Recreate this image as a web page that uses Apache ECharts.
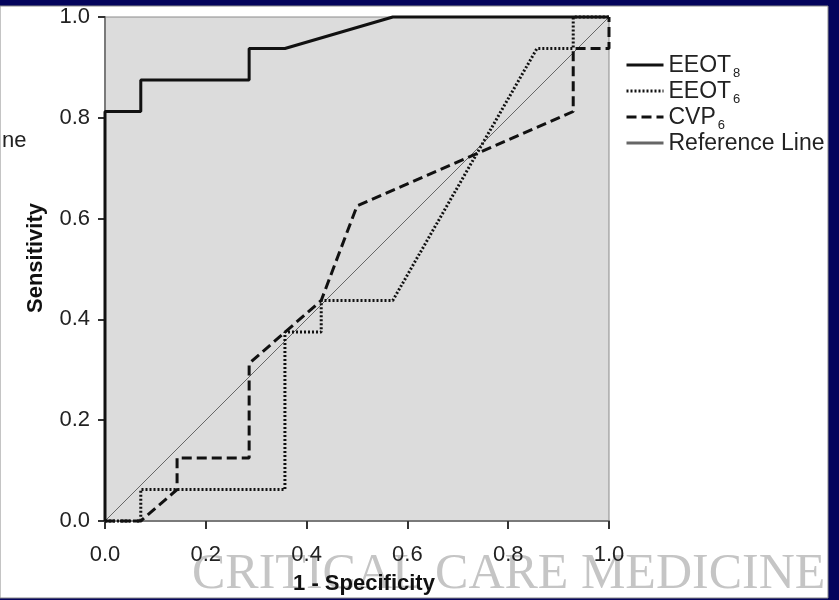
<!DOCTYPE html>
<html>
<head>
<meta charset="utf-8">
<script src="https://cdn.jsdelivr.net/npm/echarts@6/dist/echarts.min.js"></script>
<style>
  html, body { margin: 0; padding: 0; background: #04045c; }
  #chart { width: 839px; height: 600px; }
</style>
</head>
<body>
<div id="chart"></div>
<script>
// ROC curves: 1 - specificity (x) against sensitivity (y)
const axisTicks = [0.0, 0.2, 0.4, 0.6, 0.8, 1.0];

const eeot8X = [0, 0, 0.071, 0.071, 0.286, 0.286, 0.357, 0.571, 1.0];
const eeot8Y = [0, 0.8125, 0.8125, 0.875, 0.875, 0.9375, 0.9375, 1.0, 1.0];

const eeot6X = [0, 0.071, 0.071, 0.357, 0.357, 0.429, 0.429, 0.571, 0.857, 0.929, 0.929, 1.0];
const eeot6Y = [0, 0, 0.0625, 0.0625, 0.375, 0.375, 0.4375, 0.4375, 0.9375, 0.9375, 1.0, 1.0];

const cvp6X = [0, 0.071, 0.143, 0.143, 0.286, 0.286, 0.429, 0.5, 0.929, 0.929, 1.0, 1.0];
const cvp6Y = [0, 0, 0.0625, 0.125, 0.125, 0.3125, 0.4375, 0.625, 0.8125, 0.9375, 0.9375, 1.0];

const refX = [0, 1];
const refY = [0, 1];

// legend entries: [key, main text, subscript]
const legendEntries = [
  ['EEOT8', 'EEOT', '8'],
  ['EEOT6', 'EEOT', '6'],
  ['CVP6', 'CVP', '6'],
  ['Reference Line', 'Reference Line', '']
];

function pairs(xs, ys) { return xs.map((x, i) => [x, ys[i]]); }

const chart = echarts.init(document.getElementById('chart'), null, { renderer: 'canvas' });

const SANS = '"Liberation Sans", Arial, sans-serif';
const labelFont = { fontFamily: SANS, fontSize: 22, color: '#222' };

chart.setOption({
  backgroundColor: '#04045c',
  animation: false,
  graphic: [
    { type: 'rect', z: -10, shape: { x: 0, y: 6, width: 828, height: 592 },
      style: { fill: '#ffffff', stroke: '#8a8a8a', lineWidth: 1 } },
    { type: 'text', z: -5, left: 192, top: 550,
      style: { text: 'CRITICAL CARE MEDICINE', fill: 'rgba(150,150,150,0.55)',
               font: '50px "Liberation Serif", "DejaVu Serif", serif' } },
    { type: 'text', left: 2, top: 130,
      style: { text: 'ne', fill: '#222', font: '22px ' + SANS } }
  ],
  grid: {
    left: 105, right: 230, top: 17, bottom: 79,
    show: true, backgroundColor: '#dcdcdc', borderColor: '#8a8a8a', borderWidth: 1
  },
  legend: {
    data: legendEntries.map(e => e[0]),
    orient: 'vertical',
    left: 620, top: 49,
    itemWidth: 37, itemHeight: 14, itemGap: 0,
    itemStyle: { opacity: 0 },
    lineStyle: { width: 3 },
    textStyle: {
      ...labelFont,
      rich: {
        a: { fontFamily: SANS, fontSize: 23, color: '#222', lineHeight: 22, verticalAlign: 'top' },
        s: { fontFamily: SANS, fontSize: 13, color: '#222', lineHeight: 13, verticalAlign: 'top', padding: [13, 0, 0, 2] }
      }
    },
    formatter: function (name) {
      const e = legendEntries.find(v => v[0] === name);
      return e[2] ? '{a|' + e[1] + '}{s|' + e[2] + '}' : '{a|' + e[1] + '}{s| }';
    }
  },
  xAxis: {
    type: 'value', min: 0, max: 1, interval: 0.2,
    name: '1 - Specificity', nameLocation: 'middle', nameGap: 52,
    nameTextStyle: { ...labelFont, fontWeight: 'bold', color: '#111', padding: [0, 0, 0, 14] },
    axisLine: { show: true, lineStyle: { color: '#7a7a7a', width: 2 } },
    axisTick: { show: true, length: 8, lineStyle: { color: '#333', width: 2 } },
    axisLabel: { ...labelFont, margin: 23, formatter: v => v.toFixed(1) },
    splitLine: { show: false }
  },
  yAxis: {
    type: 'value', min: 0, max: 1, interval: 0.2,
    name: 'Sensitivity', nameLocation: 'middle', nameGap: 58,
    nameTextStyle: { ...labelFont, fontWeight: 'bold', color: '#111', padding: [0, 0, 0, 22] },
    axisLine: { show: true, lineStyle: { color: '#7a7a7a', width: 2 } },
    axisTick: { show: true, length: 7, lineStyle: { color: '#333', width: 2 } },
    axisLabel: { ...labelFont, margin: 15, formatter: v => v.toFixed(1) },
    splitLine: { show: false }
  },
  series: [
    {
      name: 'Reference Line', type: 'line', symbol: 'none', z: 1, clip: false,
      data: pairs(refX, refY),
      lineStyle: { color: '#666', width: 1, type: 'solid' },
      itemStyle: { color: '#666' }
    },
    {
      name: 'CVP6', type: 'line', symbol: 'none', z: 2, clip: false,
      data: pairs(cvp6X, cvp6Y),
      lineStyle: { color: '#111', width: 3, type: [10, 5] },
      itemStyle: { color: '#111' }
    },
    {
      name: 'EEOT6', type: 'line', symbol: 'none', z: 3, clip: false,
      data: pairs(eeot6X, eeot6Y),
      lineStyle: { color: '#111', width: 3, type: [2, 2] },
      itemStyle: { color: '#111' }
    },
    {
      name: 'EEOT8', type: 'line', symbol: 'none', z: 4, clip: false,
      data: pairs(eeot8X, eeot8Y),
      lineStyle: { color: '#111', width: 3, type: 'solid' },
      itemStyle: { color: '#111' }
    }
  ]
});
</script>
</body>
</html>
